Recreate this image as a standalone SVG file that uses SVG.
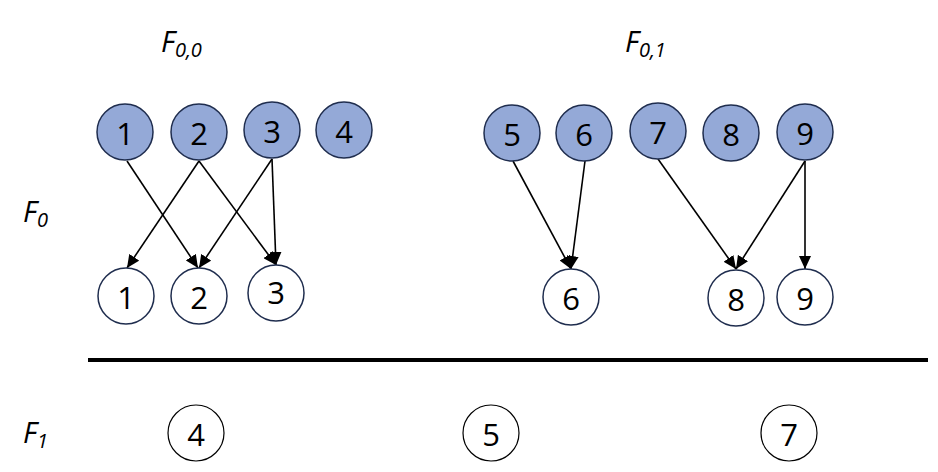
<svg xmlns="http://www.w3.org/2000/svg" width="938" height="472" viewBox="0 0 938 472">
<style>
.f{fill:#94a9d7;stroke:#1f2d4e;stroke-width:1.5}
.w{fill:#fff;stroke:#1f2d4e;stroke-width:1.5}
.b{fill:#fff;stroke:#000;stroke-width:1.2}
.n{font-family:"Open Sans","Liberation Sans",Arial,sans-serif;font-size:31px;fill:#000;text-anchor:middle;dominant-baseline:central}
.l{font-family:"Open Sans","Liberation Sans",sans-serif;font-style:italic;font-size:29px;fill:#000}
.s{font-size:20px}
.c{stroke:#000;stroke-width:1.6;fill:none;marker-end:url(#ah)}
</style>
<defs>
<marker id="ah" markerUnits="userSpaceOnUse" markerWidth="14" markerHeight="12" refX="13" refY="6" orient="auto">
<path d="M0,0 L13,6 L0,12 Z" fill="#000"/>
</marker>
</defs>
<g id="labels">
<text class="l" x="161" y="52">F<tspan class="s" dy="5">0,0</tspan></text>
<text class="l" x="625" y="52">F<tspan class="s" dy="5">0,1</tspan></text>
<text class="l" x="23" y="222">F<tspan class="s" dy="5">0</tspan></text>
<text class="l" x="23" y="443">F<tspan class="s" dy="5">1</tspan></text>
</g>
<g id="connectors">
<line class="c" x1="127" y1="161" x2="198" y2="268"/>
<line class="c" x1="199" y1="161" x2="127" y2="268"/>
<line class="c" x1="199" y1="161" x2="276" y2="265"/>
<line class="c" x1="272" y1="159" x2="199" y2="268"/>
<line class="c" x1="272" y1="159" x2="276" y2="265"/>
<line class="c" x1="513" y1="161" x2="571" y2="269"/>
<line class="c" x1="585" y1="161" x2="571" y2="269"/>
<line class="c" x1="658" y1="159" x2="736" y2="269"/>
<line class="c" x1="805" y1="161" x2="736" y2="269"/>
<line class="c" x1="805" y1="161" x2="805" y2="269"/>
</g>
<g id="t1"><circle class="f" cx="125" cy="132" r="28"/><text class="n" x="125" y="133">1</text></g>
<g id="t2"><circle class="f" cx="199" cy="132" r="28"/><text class="n" x="199" y="133">2</text></g>
<g id="t3"><circle class="f" cx="272" cy="130" r="28"/><text class="n" x="272" y="131">3</text></g>
<g id="t4"><circle class="f" cx="344" cy="130" r="28"/><text class="n" x="344" y="131">4</text></g>
<g id="t5"><circle class="f" cx="512" cy="133" r="28"/><text class="n" x="512" y="134">5</text></g>
<g id="t6"><circle class="f" cx="584" cy="133" r="28"/><text class="n" x="584" y="134">6</text></g>
<g id="t7"><circle class="f" cx="658" cy="131" r="28"/><text class="n" x="658" y="132">7</text></g>
<g id="t8"><circle class="f" cx="731" cy="133" r="28"/><text class="n" x="731" y="134">8</text></g>
<g id="t9"><circle class="f" cx="805" cy="132" r="28"/><text class="n" x="805" y="133">9</text></g>
<g id="u1"><circle class="w" cx="126" cy="296" r="28"/><text class="n" x="126" y="297">1</text></g>
<g id="u2"><circle class="w" cx="199" cy="296" r="28"/><text class="n" x="199" y="297">2</text></g>
<g id="u3"><circle class="w" cx="276" cy="293" r="28"/><text class="n" x="276" y="292">3</text></g>
<g id="u6"><circle class="w" cx="571" cy="297" r="28"/><text class="n" x="571" y="298">6</text></g>
<g id="u8"><circle class="w" cx="736" cy="298" r="28"/><text class="n" x="736" y="299">8</text></g>
<g id="u9"><circle class="w" cx="805" cy="297" r="28"/><text class="n" x="805" y="298">9</text></g>
<line x1="88" y1="360" x2="928" y2="360" stroke="#000" stroke-width="4"/>
<g id="v4"><circle class="b" cx="196" cy="433" r="28"/><text class="n" x="196" y="434">4</text></g>
<g id="v5"><circle class="b" cx="491" cy="433" r="28"/><text class="n" x="491" y="434">5</text></g>
<g id="v7"><circle class="b" cx="789" cy="433" r="28"/><text class="n" x="789" y="434">7</text></g>
</svg>
